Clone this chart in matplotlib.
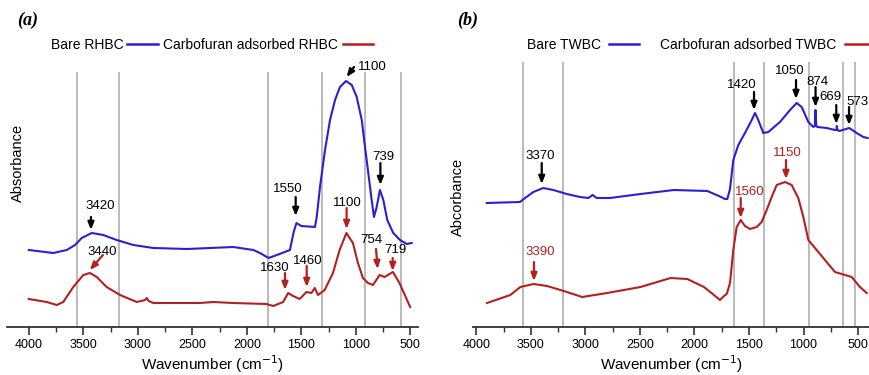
import matplotlib
matplotlib.use("Agg")
import matplotlib.pyplot as plt
from matplotlib.lines import Line2D
from matplotlib.ticker import MultipleLocator

plt.rcParams['font.family'] = ['Liberation Sans', 'DejaVu Sans']

BLUE = '#2b1fd4'
RED = '#b3201e'
GRAY = '#a8a8a8'

# ---- panel (a): RHBC spectra (wavenumber, absorbance in arbitrary units) ----
rhbc_bare_wn = [4000, 3775, 3652, 3576, 3515, 3423, 3317, 3194, 3041, 2858, 2550,
                2125, 1940, 1880, 1800, 1700, 1605, 1570, 1545, 1500, 1375, 1359,
                1329, 1283, 1237, 1191, 1146, 1090, 1038, 992, 946, 916, 886, 855,
                834, 809, 779, 748, 712, 657, 595, 534, 488]
rhbc_bare_abs = [77, 74, 77, 82, 89, 94, 92, 87, 82, 79, 78,
                 80, 77, 74, 69, 73, 77, 95, 104, 101, 100, 110,
                 140, 177, 207, 227, 240, 246, 242, 230, 207, 180, 154, 127,
                 110, 120, 137, 127, 107, 94, 87, 83, 84]

rhbc_ads_wn = [4000, 3836, 3744, 3684, 3592, 3500, 3439, 3377, 3286, 3163, 3010,
               2932, 2919, 2900, 2858, 2825, 2429, 2308, 2125, 1819, 1758, 1667,
               1621, 1576, 1515, 1454, 1408, 1377, 1347, 1286, 1210, 1149, 1087,
               1027, 981, 935, 889, 843, 782, 737, 660, 600, 502]
rhbc_ads_abs = [28, 25, 22, 25, 40, 52, 54, 50, 40, 32, 25,
                27, 29, 26, 24, 24, 24, 25, 24, 23, 21, 25,
                34, 31, 28, 35, 34, 39, 32, 37, 54, 77, 94,
                84, 64, 49, 44, 42, 52, 50, 55, 44, 20]

# ---- panel (b): TWBC spectra ----
twbc_bare_wn = [3904, 3599, 3553, 3477, 3386, 3294, 3171, 3049, 2973, 2933, 2896,
                2774, 2494, 2188, 1882, 1776, 1720, 1699, 1674, 1644, 1598, 1537,
                1475, 1445, 1415, 1369, 1323, 1216, 1124, 1063, 1017, 956, 910,
                897, 890, 883, 874, 788, 712, 698, 695, 690, 672, 581, 513, 452, 412]
twbc_bare_abs = [124, 125, 129, 135, 139, 137, 133, 130, 129, 132, 129,
                 129, 133, 137, 136, 131, 128, 128, 138, 167, 182, 194,
                 207, 214, 207, 194, 195, 205, 217, 224, 220, 205, 200,
                 201, 217, 201, 200, 199, 197, 197, 201, 197, 196, 199, 194, 190, 189]

twbc_ads_wn = [3902, 3688, 3596, 3474, 3351, 3198, 3030, 2800, 2494, 2219, 2066,
               1913, 1821, 1766, 1729, 1704, 1674, 1644, 1613, 1576, 1537, 1491,
               1429, 1384, 1338, 1292, 1246, 1170, 1109, 1048, 1002, 956, 880,
               819, 712, 620, 559, 483, 421]
twbc_ads_abs = [24, 32, 40, 43, 41, 36, 30, 34, 40, 49, 48,
                40, 32, 27, 31, 33, 44, 77, 100, 107, 101, 98,
                100, 105, 117, 130, 142, 145, 142, 129, 110, 87, 77,
                69, 55, 52, 50, 40, 34]

# reference lines
rhbc_vlines = [3561, 3177, 1804, 1307, 913, 590]
twbc_vlines = [3568, 3201, 1640, 1365, 951, 639, 529]

# peak labels: (label, text_wn, text_y, tail_wn, tail_y, head_wn, head_y, series)
rhbc_peaks = [
    ('3420', 3347, 121, 3430, 110, 3430, 97, 'bare'),
    ('1550', 1622, 138, 1552, 130, 1552, 111, 'bare'),
    ('1100', 852, 260, 1017, 260, 1085, 250, 'bare'),
    ('739', 751, 170, 775, 164, 775, 142, 'bare'),
    ('3440', 3328, 75, 3320, 72, 3440, 57, 'ads'),
    ('1630', 1741, 59, 1650, 54, 1650, 37, 'ads'),
    ('1460', 1439, 66, 1451, 61, 1451, 40, 'ads'),
    ('1100', 1081, 124, 1085, 119, 1085, 98, 'ads'),
    ('754', 861, 87, 815, 78, 800, 58, 'ads'),
    ('719', 641, 77, 662, 69, 662, 56, 'ads'),
]
twbc_peaks = [
    ('3370', 3416, 171, 3400, 164, 3400, 143, 'bare'),
    ('1420', 1564, 242, 1454, 235, 1454, 217, 'bare'),
    ('1050', 1124, 256, 1069, 247, 1069, 228, 'bare'),
    ('874', 877, 245, 890, 240, 890, 220, 'bare'),
    ('669', 757, 230, 700, 222, 700, 203, 'bare'),
    ('573', 510, 225, 583, 220, 583, 202, 'bare'),
    ('3390', 3416, 75, 3471, 65, 3471, 46, 'ads'),
    ('1560', 1491, 135, 1576, 129, 1576, 109, 'ads'),
    ('1150', 1152, 174, 1161, 167, 1161, 148, 'ads'),
]


def style_axis(ax, xlim):
    ax.set_xlim(*xlim)
    ax.set_ylim(0, 297)
    for side in ('left', 'right', 'top'):
        ax.spines[side].set_visible(False)
    ax.spines['bottom'].set_linewidth(1.3)
    ax.spines['bottom'].set_color('#333333')
    ax.set_yticks([])
    ax.xaxis.set_major_locator(MultipleLocator(500))
    ax.xaxis.set_minor_locator(MultipleLocator(250))
    ax.tick_params(axis='x', which='major', direction='out', length=6, width=1.2,
                   labelsize=9, pad=3, color='#333333')
    ax.tick_params(axis='x', which='minor', direction='out', length=3.5, width=1.0,
                   color='#333333')
    ax.set_xlabel('Wavenumber (cm$^{-1}$)', fontsize=11, labelpad=1)
    ax.patch.set_alpha(0)


def draw_peaks(ax, peaks, red_text):
    for lab, tx, ty, ax_wn, ay, hx, hy, kind in peaks:
        col = 'black' if kind == 'bare' else RED
        tcol = RED if (kind == 'ads' and red_text) else 'black'
        ax.annotate('', xy=(hx, hy), xytext=(ax_wn, ay),
                    arrowprops=dict(arrowstyle='-|>,head_length=0.45,head_width=0.18',
                                    lw=1.6, color=col, shrinkA=0, shrinkB=0))
        ax.text(tx, ty, lab, fontsize=9.5, color=tcol, ha='center', va='center')


fig = plt.figure(figsize=(8.69, 3.75), dpi=100)

# panel (a)
ax1 = fig.add_axes([7 / 869, 48 / 375, 411 / 869, 297 / 375])
style_axis(ax1, (4200, 430))
ax1.vlines(rhbc_vlines, 0, 255, color=GRAY, lw=1.1)
ax1.plot(rhbc_bare_wn, rhbc_bare_abs, color=BLUE, lw=1.5)
ax1.plot(rhbc_ads_wn, rhbc_ads_abs, color=RED, lw=1.5)
draw_peaks(ax1, rhbc_peaks, red_text=False)
ax1.legend([Line2D([], [], color=BLUE, lw=1.8), Line2D([], [], color=RED, lw=1.8)],
           ['Bare RHBC', 'Carbofuran adsorbed RHBC'],
           loc='center left', bbox_to_anchor=(45 / 869, 1 - 45 / 375),
           bbox_transform=fig.transFigure, ncol=2, frameon=False,
           markerfirst=False, fontsize=10, handlelength=2.2,
           handletextpad=0.3, columnspacing=0.4, borderaxespad=0)

# panel (b)
ax2 = fig.add_axes([473 / 869, 48 / 375, 396 / 869, 297 / 375])
style_axis(ax2, (4030, 400))
ax2.vlines(twbc_vlines, 0, 265, color=GRAY, lw=1.1)
ax2.plot(twbc_bare_wn, twbc_bare_abs, color=BLUE, lw=1.5)
ax2.plot(twbc_ads_wn, twbc_ads_abs, color=RED, lw=1.5)
draw_peaks(ax2, twbc_peaks, red_text=True)
ax2.legend([Line2D([], [], color=BLUE, lw=1.8), Line2D([], [], color=RED, lw=1.8)],
           ['Bare TWBC', 'Carbofuran adsorbed TWBC'],
           loc='center left', bbox_to_anchor=(521 / 869, 1 - 45 / 375),
           bbox_transform=fig.transFigure, ncol=2, frameon=False,
           markerfirst=False, fontsize=10, handlelength=2.2,
           handletextpad=0.6, columnspacing=1.5, borderaxespad=0)

fig.text(18 / 869, 1 - 163 / 375, 'Absorbance', rotation=90, fontsize=10.5,
         ha='center', va='center')
fig.text(458 / 869, 1 - 197 / 375, 'Abcorbance', rotation=90, fontsize=10.5,
         ha='center', va='center')
fig.text(17 / 869, 1 - 20 / 375, '(a)', fontsize=13, fontweight='bold',
         fontstyle='italic', family='Liberation Serif', va='center')
fig.text(457 / 869, 1 - 20 / 375, '(b)', fontsize=13, fontweight='bold',
         fontstyle='italic', family='Liberation Serif', va='center')

fig.savefig('out.png', dpi=100)
